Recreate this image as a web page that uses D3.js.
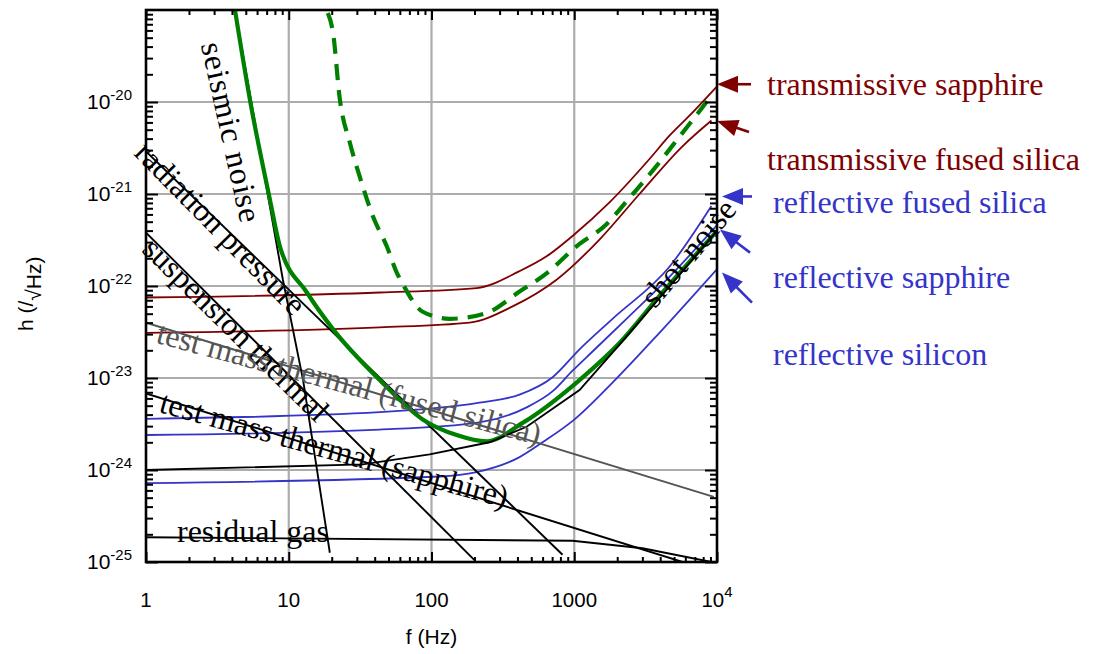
<!DOCTYPE html>
<html>
<head>
<meta charset="utf-8">
<script src="https://cdn.jsdelivr.net/npm/d3@7/dist/d3.min.js"></script>
<style>
  body { margin: 0; background: #fff; }
  svg { display: block; }
</style>
</head>
<body>
<svg id="chart" width="1103" height="654"></svg>
<script>
// noise curves, frequency in Hz, strain in 1/sqrt(Hz)
const seismicF = [4.2, 9.1, 12.6, 19.4];
const seismicH = [1e-19, 1.17e-22, 9.5e-24, 1.26e-25];

const radPressF = [1, 828];
const radPressH = [2.9e-21, 1.2e-25];

const suspF = [1, 200];
const suspH = [3.8e-22, 1.05e-25];

const tmFusedF = [1, 9500];
const tmFusedH = [4e-23, 5.1e-25];

const tmSapphF = [1, 5730];
const tmSapphH = [6.8e-24, 1e-25];

const gasF = [1, 973, 3006, 9140];
const gasH = [1.86e-25, 1.7e-25, 1.41e-25, 1e-25];

const shotF = [1, 33, 97, 255, 464, 1089, 2075, 9900];
const shotH = [1e-24, 1.15e-24, 1.48e-24, 2e-24, 2.95e-24, 7.4e-24, 2.3e-23, 3.9e-22];

const transSapphF = [1, 43.4, 207, 414, 640, 973, 1766, 3365, 4645, 6412, 10000];
const transSapphH = [7.5e-23, 8.5e-23, 9.5e-23, 1.45e-22, 2.1e-22, 3.5e-22, 8.1e-22, 2.4e-21, 4.3e-21, 7.1e-21, 1.48e-20];

const transFusedF = [1, 43.4, 185, 370, 752, 1503, 2865, 5728, 9140];
const transFusedH = [3.1e-23, 3.55e-23, 4e-23, 6e-23, 1.17e-22, 3.2e-22, 1e-21, 3.3e-21, 6.3e-21];

const reflFusedF = [1, 43.4, 217, 414, 705, 1089, 1854, 4645, 9140];
const reflFusedH = [3.6e-24, 4.25e-24, 5.4e-24, 6.6e-24, 1.02e-23, 2.05e-23, 4.4e-23, 1.62e-22, 7.4e-22];

const reflSapphF = [1, 43.4, 217, 464, 700, 973, 1343, 2323, 4645, 9900];
const reflSapphH = [2.4e-24, 2.75e-24, 3.3e-24, 4.8e-24, 7.1e-24, 1.2e-23, 1.94e-23, 4.4e-23, 1.26e-22, 4.5e-22];

const reflSiliconF = [1, 114, 207, 414, 600, 1005, 1854, 3953, 9900];
const reflSiliconH = [7.2e-25, 8.5e-25, 9.5e-25, 1.38e-24, 2e-24, 3.55e-24, 8.9e-24, 3.1e-23, 1.5e-22];

const totalF = [4.2, 5.34, 7.38, 8.67, 13.4, 20.4, 43.4, 86.7, 150, 243, 435, 1089, 2075, 3953, 9900];
const totalH = [1e-19, 1.07e-20, 8.7e-22, 2.7e-22, 8.5e-23, 3.4e-23, 9.5e-24, 3.55e-24, 2.4e-24, 2.05e-24, 3.25e-24, 9.5e-24, 2.4e-23, 7.8e-23, 3.9e-22];

const totalTransF = [18.8, 20.4, 22.8, 26.8, 31.4, 38.8, 48.6, 57.1, 62.9, 86.8, 134, 243, 414, 650, 1038, 1683, 2439, 3532, 5457, 8430, 9290];
const totalTransH = [9.3e-20, 5.75e-20, 1.07e-20, 3.6e-21, 1.55e-21, 5.75e-22, 2.7e-22, 1.4e-22, 1.05e-22, 5.25e-23, 4.4e-23, 5.1e-23, 8.7e-23, 1.4e-22, 2.7e-22, 4.7e-22, 9.1e-22, 1.78e-21, 4.2e-21, 1e-20, 1.23e-20];

// axis ticks
const xTicks = [1, 10, 100, 1000, 10000];
const xTickLabels = ['1', '10', '100', '1000', '10|4'];
const yTicks = [1e-25, 1e-24, 1e-23, 1e-22, 1e-21, 1e-20];
const yTickLabels = ['10|-25', '10|-24', '10|-23', '10|-22', '10|-21', '10|-20'];

// legend on the right (value at the right edge the arrow points to)
const legendNames = ['transmissive sapphire', 'transmissive fused silica', 'reflective fused silica', 'reflective sapphire', 'reflective silicon'];
const legendArrowH = [1.56e-20, 6.2e-21, 9.4e-22, 4.1e-22, 1.4e-22];

const RED = '#800000', BLUE = '#3434c8', GREEN = '#008000';

const svg = d3.select('#chart');
const margin = { top: 10, right: 386, bottom: 92, left: 146 };
const width = 1103 - margin.left - margin.right;
const height = 654 - margin.top - margin.bottom;

const x = d3.scaleLog().domain([1, 1e4]).range([0, width]);
const y = d3.scaleLog().domain([1e-25, 1e-19]).range([height, 0]);

const g = svg.append('g').attr('transform', `translate(${margin.left},${margin.top})`);

g.append('defs').append('clipPath').attr('id', 'plotClip')
  .append('rect').attr('width', width).attr('height', height);

// grid
g.selectAll('.vgrid').data([10, 100, 1000]).enter().append('line')
  .attr('x1', d => x(d)).attr('x2', d => x(d)).attr('y1', 0).attr('y2', height)
  .attr('stroke', '#acacac').attr('stroke-width', 2.2);
g.selectAll('.hgrid').data([1e-24, 1e-23, 1e-22, 1e-21, 1e-20]).enter().append('line')
  .attr('y1', d => y(d)).attr('y2', d => y(d)).attr('x1', 0).attr('x2', width)
  .attr('stroke', '#acacac').attr('stroke-width', 2.2);

// curves
const zip = (fs, hs) => fs.map((f, i) => ({ f, h: hs[i] }));
const line = d3.line().x(d => x(d.f)).y(d => y(d.h));
const smooth = d3.line().curve(d3.curveMonotoneX).x(d => x(d.f)).y(d => y(d.h));

const series = [
  { f: transSapphF, h: transSapphH, color: RED, w: 1.8, smooth: true },
  { f: transFusedF, h: transFusedH, color: RED, w: 1.8, smooth: true },
  { f: reflFusedF, h: reflFusedH, color: BLUE, w: 1.8, smooth: true },
  { f: reflSapphF, h: reflSapphH, color: BLUE, w: 1.8, smooth: true },
  { f: reflSiliconF, h: reflSiliconH, color: BLUE, w: 1.8, smooth: true },
  { f: tmFusedF, h: tmFusedH, color: '#555', w: 2 },
  { f: tmSapphF, h: tmSapphH, color: '#000', w: 1.9 },
  { f: gasF, h: gasH, color: '#000', w: 1.9 },
  { f: suspF, h: suspH, color: '#000', w: 1.9 },
  { f: radPressF, h: radPressH, color: '#000', w: 1.9 },
  { f: seismicF, h: seismicH, color: '#000', w: 1.9 },
  { f: totalF, h: totalH, color: GREEN, w: 4.2, smooth: true },
  { f: shotF, h: shotH, color: '#000', w: 1.9 },
  { f: totalTransF, h: totalTransH, color: GREEN, w: 4.2, smooth: true, dash: '16,10' }
];

const curves = g.append('g').attr('clip-path', 'url(#plotClip)');
series.forEach(s => {
  curves.append('path')
    .datum(zip(s.f, s.h))
    .attr('fill', 'none')
    .attr('stroke', s.color)
    .attr('stroke-width', s.w)
    .attr('stroke-dasharray', s.dash || null)
    .attr('d', s.smooth ? smooth : line);
});

// labels on the curves
const serif = '"Liberation Serif", "Times New Roman", serif';
const curveLabels = [
  { text: 'seismic noise', f: 2.42, h: 4.2e-20, angle: 77.5, color: '#000', ls: 1 },
  { text: 'radiation pressure', f: 0.81, h: 2.7e-21, angle: 45.5, color: '#000', ls: 0 },
  { text: 'suspension thermal', f: 0.92, h: 2.4e-22, angle: 44.5, color: '#000', ls: 0 },
  { text: 'test mass thermal (fused silica)', f: 1.156, h: 2.43e-23, angle: 15, color: '#555', ls: 0 },
  { text: 'test mass thermal (sapphire)', f: 1.213, h: 4.3e-24, angle: 15.5, color: '#000', ls: 0 },
  { text: 'residual gas', f: 1.648, h: 1.65e-25, angle: 0, color: '#000', ls: 0 },
  { text: 'shot noise', f: 3680, h: 5.6e-23, angle: -50, color: '#000', ls: 0 }
];
g.selectAll('.clabel').data(curveLabels).enter().append('text')
  .attr('transform', d => `translate(${x(d.f)},${y(d.h)}) rotate(${d.angle})`)
  .attr('font-family', serif)
  .attr('font-size', 32)
  .attr('letter-spacing', d => d.ls)
  .attr('fill', d => d.color)
  .text(d => d.text);

// ticks, pointing inwards on all four sides
const minorX = [], minorY = [];
for (let e = 0; e < 4; e++) for (let m = 2; m <= 9; m++) minorX.push(m * Math.pow(10, e));
for (let e = -25; e < -19; e++) for (let m = 2; m <= 9; m++) minorY.push(m * Math.pow(10, e));

const tickAxis = (axis, vals, size, transform) => {
  const ax = g.append('g').attr('transform', transform)
    .call(axis.tickValues(vals).tickSize(size).tickFormat(''));
  ax.select('.domain').remove();
  ax.selectAll('line').attr('stroke', '#000').attr('stroke-width', 2);
};
tickAxis(d3.axisBottom(x), minorX, -5, `translate(0,${height})`);
tickAxis(d3.axisBottom(x), xTicks, -10, `translate(0,${height})`);
tickAxis(d3.axisTop(x), minorX, -5, 'translate(0,0)');
tickAxis(d3.axisTop(x), xTicks, -10, 'translate(0,0)');
tickAxis(d3.axisLeft(y), minorY, -7, 'translate(0,0)');
tickAxis(d3.axisLeft(y), yTicks, -12, 'translate(0,0)');
tickAxis(d3.axisRight(y), minorY, -7, `translate(${width},0)`);
tickAxis(d3.axisRight(y), yTicks, -12, `translate(${width},0)`);

// frame
g.append('rect').attr('width', width).attr('height', height)
  .attr('fill', 'none').attr('stroke', '#000').attr('stroke-width', 2.6);

// tick labels with superscripts
const sansFont = '"Liberation Sans", Arial, sans-serif';
const xl = g.selectAll('.xl').data(xTicks).enter().append('text')
  .attr('x', d => x(d)).attr('y', height + 45)
  .attr('text-anchor', 'middle')
  .attr('font-family', sansFont).attr('font-size', 20.5);
xl.each(function (d, i) {
  const [base, sup] = xTickLabels[i].split('|');
  const t = d3.select(this);
  t.append('tspan').text(base);
  if (sup) t.append('tspan').attr('font-size', 15).attr('dy', -10).text(sup);
});

const yl = g.selectAll('.yl').data(yTicks).enter().append('text')
  .attr('x', -59).attr('y', d => y(d) + 7)
  .attr('font-family', sansFont).attr('font-size', 21);
yl.each(function (d, i) {
  const [base, sup] = yTickLabels[i].split('|');
  const t = d3.select(this);
  t.append('tspan').text(base);
  t.append('tspan').attr('font-size', 15).attr('dy', -9).text(sup);
});

// axis titles
g.append('text').attr('x', width / 2).attr('y', height + 82)
  .attr('text-anchor', 'middle').attr('font-family', sansFont).attr('font-size', 21)
  .text('f (Hz)');
const yt = svg.append('text')
  .attr('transform', 'translate(33,331) rotate(-90)')
  .attr('font-family', sansFont).attr('font-size', 21);
yt.append('tspan').text('h (/');
yt.append('tspan').attr('dy', 8).text('√Hz)');

// legend arrows and names on the right
const legendColors = [RED, RED, BLUE, BLUE, BLUE];
const arrowTail = [[34, 0], [32, 11], [30, 0], [30, 23], [30, 30]];
const arrowTipDx = [0, 0, 5, 3, 5];
const legendY = [95, 170, 213, 288, 365];
const legendX = [767, 767, 773, 773, 773];

legendNames.forEach((name, i) => {
  const tx = width + arrowTipDx[i], ty = y(legendArrowH[i]);
  const [dx, dy] = arrowTail[i];
  const len = Math.hypot(dx, dy), ux = dx / len, uy = dy / len;
  const headL = 21, headW = 8.5;
  const bx = tx + ux * headL, by = ty + uy * headL;
  g.append('line').attr('x1', bx - ux * 2).attr('y1', by - uy * 2)
    .attr('x2', tx + dx).attr('y2', ty + dy)
    .attr('stroke', legendColors[i]).attr('stroke-width', 2.6);
  g.append('path')
    .attr('d', `M${tx},${ty}L${bx - uy * headW},${by + ux * headW}L${bx + uy * headW},${by - ux * headW}Z`)
    .attr('fill', legendColors[i]);
  svg.append('text').attr('x', legendX[i]).attr('y', legendY[i])
    .attr('font-family', serif)
    .attr('font-size', 32).attr('fill', legendColors[i])
    .text(name);
});
</script>
</body>
</html>
